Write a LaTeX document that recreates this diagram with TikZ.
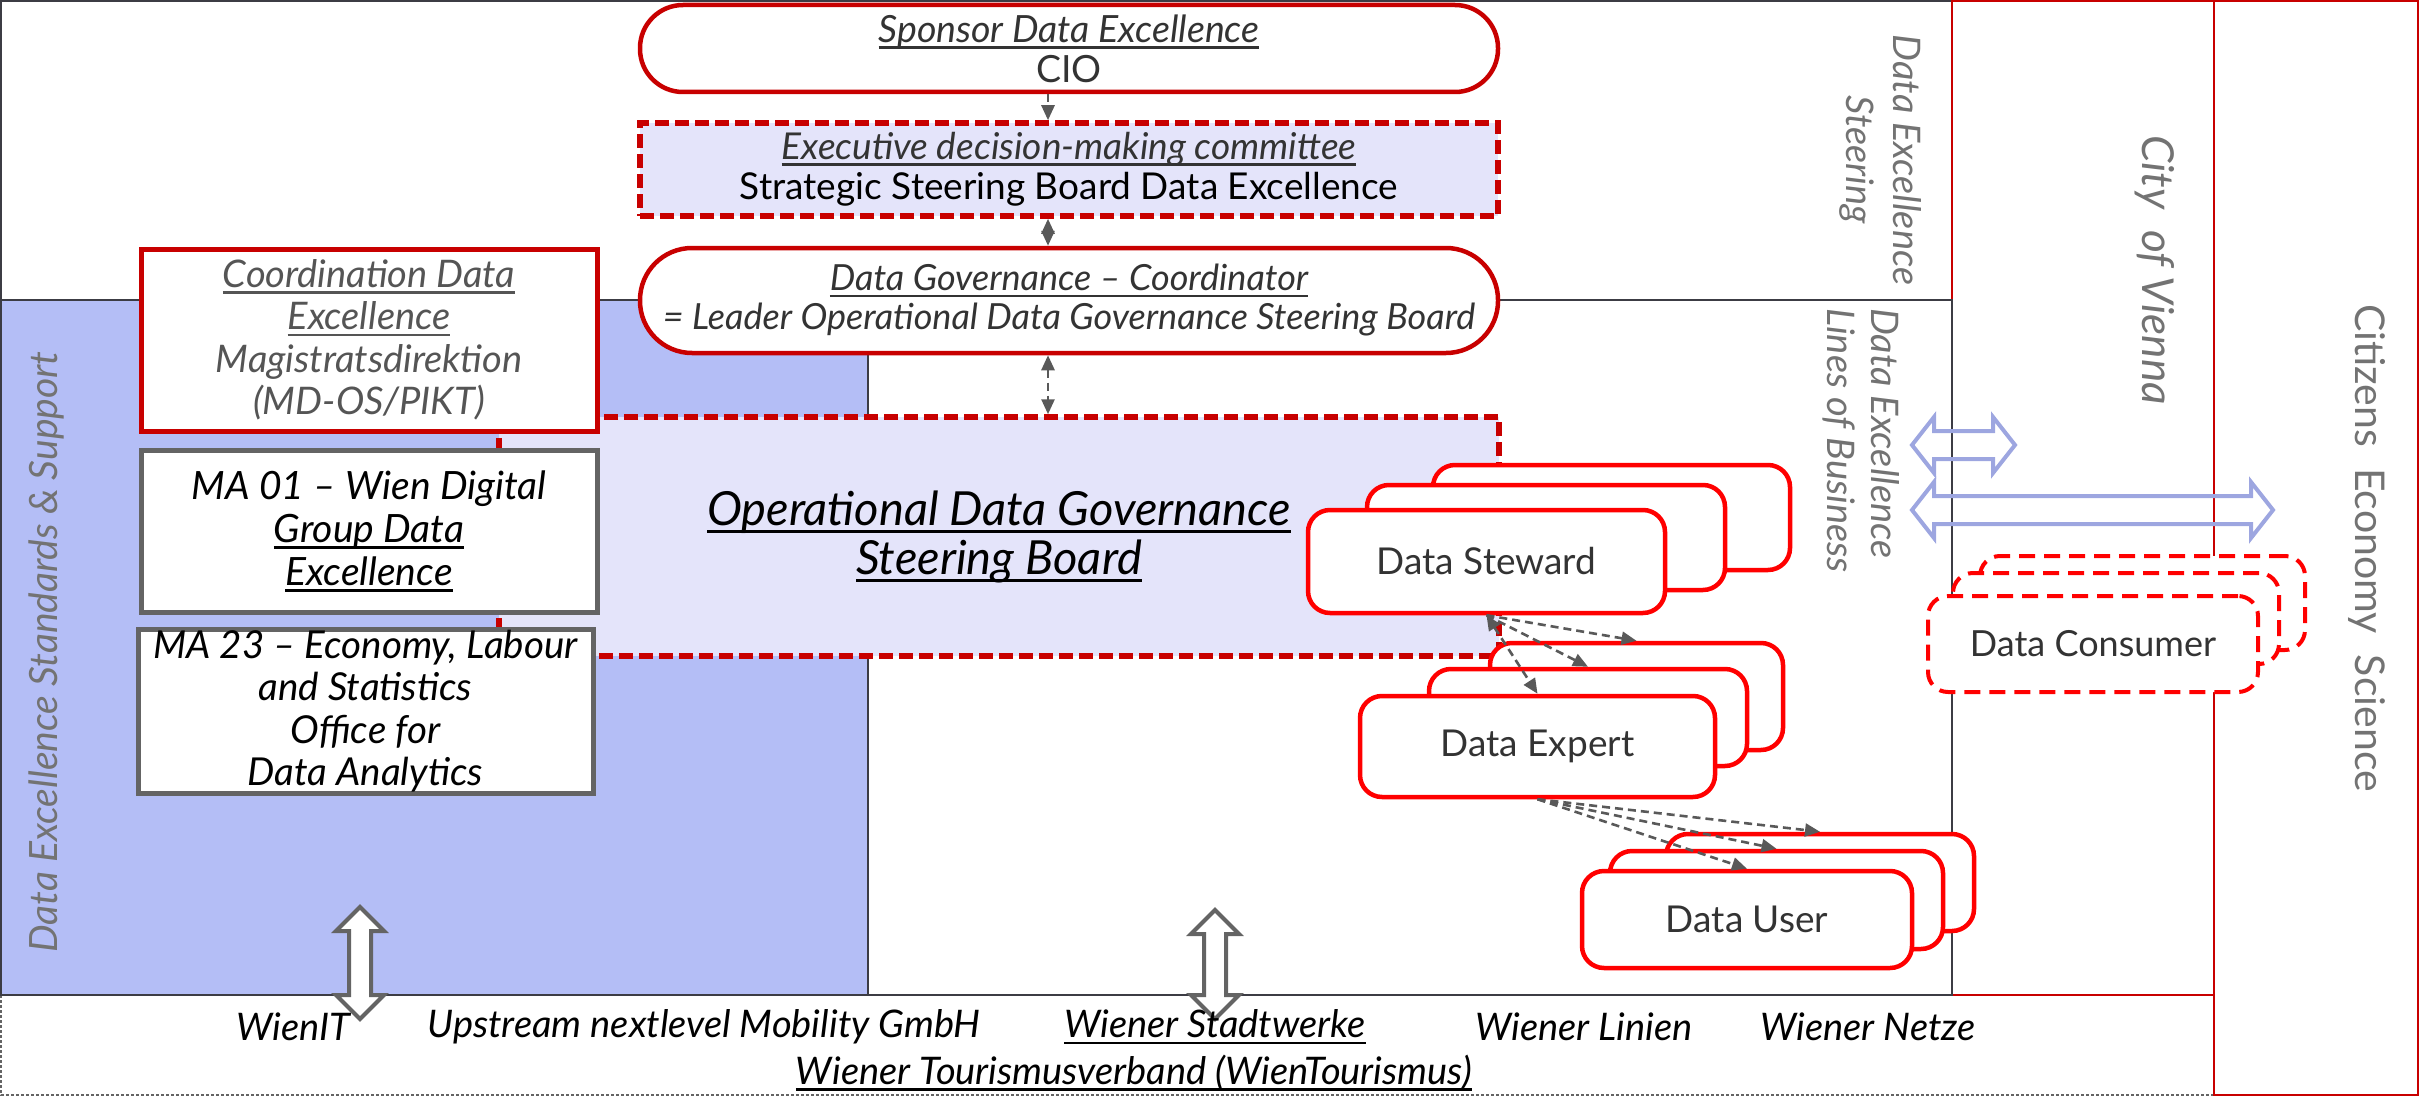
\documentclass[tikz,border=0pt]{standalone}
\usepackage{fontspec}
\setmainfont{Lato}
\usetikzlibrary{arrows.meta,calc}
\definecolor{dred}{HTML}{C80000}
\definecolor{bred}{HTML}{FF0000}
\definecolor{bluefill}{HTML}{B4BEF6}
\definecolor{lav}{HTML}{E4E4FA}
\definecolor{frameC}{HTML}{3C3C44}
\definecolor{boxgray}{HTML}{646464}
\definecolor{conngray}{HTML}{595959}
\definecolor{barrow}{HTML}{9DA6E0}
\definecolor{lblgray}{HTML}{737373}
\definecolor{coordgray}{HTML}{555555}
\definecolor{txtdark}{HTML}{333333}
\newcommand\fsz[2]{\fontsize{#1}{#2}\selectfont}
\newcommand\ulx[1]{\leavevmode\setbox0\hbox{#1}\rlap{\rule[-0.17em]{\wd0}{0.07em}}\box0}
\newcommand\vdarr[3]{\draw[garrow] (#1,#2) -- (#1+24,#2+24) -- (#1+11,#2+24) -- (#1+11,#3-24) -- (#1+24,#3-24) -- (#1,#3) -- (#1-24,#3-24) -- (#1-11,#3-24) -- (#1-11,#2+24) -- (#1-24,#2+24) -- cycle;}
\newcommand\hdarr[3]{\draw[barr] (#2,#1) -- (#2+22,#1-28) -- (#2+22,#1-14) -- (#3-22,#1-14) -- (#3-22,#1-28) -- (#3,#1) -- (#3-22,#1+28) -- (#3-22,#1+14) -- (#2+22,#1+14) -- (#2+22,#1+28) -- cycle;}
\tikzset{
  frame/.style={draw=frameC, line width=2.2pt},
  redthin/.style={draw=dred, line width=2.2pt},
  capsule/.style={rectangle, draw=dred, line width=4.5pt, fill=white, inner sep=0pt, align=center, text=txtdark},
  reddash/.style={rectangle, draw=dred, line width=5.5pt, dash pattern=on 14pt off 6pt, fill=lav, inner sep=0pt, align=center},
  coordbox/.style={rectangle, draw=dred, line width=5pt, fill=white, inner sep=0pt, align=center},
  graybox/.style={rectangle, draw=boxgray, line width=5pt, fill=white, inner sep=0pt, align=center},
  stackbox/.style={rectangle, draw=bred, line width=4.5pt, fill=white, rounded corners=22pt, inner sep=0pt, font=\fsz{37}{42}, text=txtdark},
  consbox/.style={rectangle, draw=bred, line width=4pt, dash pattern=on 16pt off 9pt, fill=white, rounded corners=20pt, inner sep=0pt, font=\fsz{36}{40}, text=txtdark},
  conn/.style={draw=conngray, line width=2.6pt, dash pattern=on 8pt off 5pt, -{Triangle[length=15pt,width=13pt]}},
  conn2/.style={draw=conngray, line width=2.6pt, dash pattern=on 8pt off 5pt, {Triangle[length=15pt,width=13pt]}-{Triangle[length=15pt,width=13pt]}},
  garrow/.style={draw=boxgray, line width=4pt, fill=white, line join=miter},
  barr/.style={draw=barrow, line width=4pt, line join=miter},
  lbl/.style={inner sep=0pt, text=lblgray},
  btxt/.style={inner sep=0pt, font=\fsz{38}{44}\itshape, text=black},
}
\begin{document}
\begin{tikzpicture}[x=1pt,y=-1pt]
\useasboundingbox (0,0) rectangle (2420,1097);
% background regions
\draw[draw=boxgray, line width=1.6pt, dash pattern=on 3pt off 2pt] (1,995) rectangle (2214,1095);
\draw[frame] (1952,1) -- (1,1) -- (1,300) -- (1952,300);
\draw[redthin] (1952,1) rectangle (2214,995);
\filldraw[fill=bluefill, frame] (1,300) rectangle (868,995);
\draw[frame] (868,300) rectangle (1952,995);
\draw[redthin] (2214,1) rectangle (2418,1095);
% side labels
\node[lbl, rotate=-90, align=center, font=\fsz{38}{47}\itshape] (lsteer) at (1881,160) {Data Excellence\\Steering};
\node[lbl, rotate=-90, align=left, font=\fsz{38}{44}\itshape, anchor=north west] (llob) at (1900,308) {Data Excellence\\Lines of Business};
\node[lbl, rotate=-90, font=\fsz{44}{50}\itshape] (lcity) at (2155,270) {City\ \ of Vienna};
\node[lbl, rotate=-90, font=\fsz{41}{46}] (lcit) at (2367,548) {Citizens\ \ Economy\ \ Science};
\node[lbl, rotate=90, font=\fsz{39}{44}\itshape] (lstd) at (46,652) {Data Excellence Standards \& Support};
% operational board
\node[reddash, minimum width=1000pt, minimum height=239pt, font=\fsz{47}{49}\itshape] (ops) at (999,536.5) {\ulx{Operational Data Governance}\\\ulx{Steering Board}};
% left column boxes
\node[coordbox, minimum width=456pt, minimum height=182pt, font=\fsz{38}{42.5}\itshape, text=coordgray] (coord) at (369,340) {\ulx{Coordination Data}\\\ulx{Excellence}\\Magistratsdirektion\\(MD-OS/PIKT)};
\node[graybox, minimum width=456pt, minimum height=162pt, font=\fsz{39}{43}\itshape] (ma01) at (369,531) {MA 01 – Wien Digital\\\ulx{Group Data}\\\ulx{Excellence}};
\node[graybox, minimum width=455pt, minimum height=164pt, font=\fsz{38.5}{42.3}\itshape] (ma23) at (365.5,711) {MA 23 – Economy, Labour\\and Statistics\\Office for\\Data Analytics};
% top column
\node[capsule, rounded corners=43pt, minimum width=858pt, minimum height=87pt, font=\fsz{37.5}{40}] (spon) at (1069,48.5) {\textcolor{txtdark}{\itshape\ulx{Sponsor Data Excellence}}\\CIO};
\node[reddash, minimum width=858pt, minimum height=93pt, font=\fsz{37}{40}] (exec) at (1069,169.5) {\textcolor{txtdark}{\itshape\ulx{Executive decision-making committee}}\\Strategic Steering Board Data Excellence};
\node[capsule, rounded corners=52pt, minimum width=858pt, minimum height=105pt, font=\fsz{36}{39}\itshape] (dgc) at (1069,300.5) {\ulx{Data Governance – Coordinator}\\= Leader Operational Data Governance Steering Board};
\coordinate (ax) at (1048,0);
\draw[conn] (spon.south -| ax) -- (exec.north -| ax);
\draw[conn2] (exec.south -| ax) -- (dgc.north -| ax);
\draw[conn2] (dgc.south -| ax) -- (ops.north -| ax);
% Data Steward stack
\node[stackbox, minimum width=357pt, minimum height=105pt] (st3) at (1611.5,517.5) {};
\node[stackbox, minimum width=358pt, minimum height=105pt] (st2) at (1546,537.5) {};
\node[stackbox, minimum width=357pt, minimum height=103pt] (st1) at (1486.5,561.5) {Data Steward};
% Data Expert stack
\node[stackbox, minimum width=293pt, minimum height=107pt] (ex3) at (1636.5,696.5) {};
\node[stackbox, minimum width=318pt, minimum height=97pt] (ex2) at (1588,717.5) {};
\node[stackbox, minimum width=355pt, minimum height=101pt] (ex1) at (1537.5,746.5) {Data Expert};
% Data User stack
\node[stackbox, minimum width=308pt, minimum height=97pt] (us3) at (1820,882.5) {};
\node[stackbox, minimum width=333pt, minimum height=98pt] (us2) at (1776.5,900) {};
\node[stackbox, minimum width=330pt, minimum height=97pt] (us1) at (1747,919.5) {Data User};
% stack connectors
\draw[conn2] (st1.south) -- (ex1.north);
\draw[conn] (st1.south) -- (ex2.north);
\draw[conn] (st1.south) -- (ex3.north);
\draw[conn] (ex1.south) -- (us1.north);
\draw[conn] (ex1.south) -- (us2.north);
\draw[conn] (ex1.south) -- (us3.north);
% Data Consumer stack
\node[consbox, minimum width=325pt, minimum height=94pt] (dc3) at (2142.5,603) {};
\node[consbox, minimum width=326pt, minimum height=91pt] (dc2) at (2116,618.5) {};
\node[consbox, minimum width=330pt, minimum height=96pt] (dc1) at (2093,644) {Data Consumer};
% block arrows
\hdarr{445}{1912}{2015}
\hdarr{510}{1912}{2273}
\vdarr{360}{907}{1019}
\vdarr{1215}{910}{1019}
% bottom band texts
\node[btxt] (wit) at (293,1027) {WienIT};
\node[btxt] (ups) at (704,1027) {Upstream nextlevel Mobility GmbH};
\node[btxt] (wsw) at (1215,1027) {\ulx{Wiener Stadtwerke}};
\node[btxt] (wli) at (1584,1027) {Wiener Linien};
\node[btxt] (wne) at (1868,1027) {Wiener Netze};
\node[btxt] (wtv) at (1134,1073) {\ulx{Wiener Tourismusverband (WienTourismus)}};
\end{tikzpicture}
\end{document}
